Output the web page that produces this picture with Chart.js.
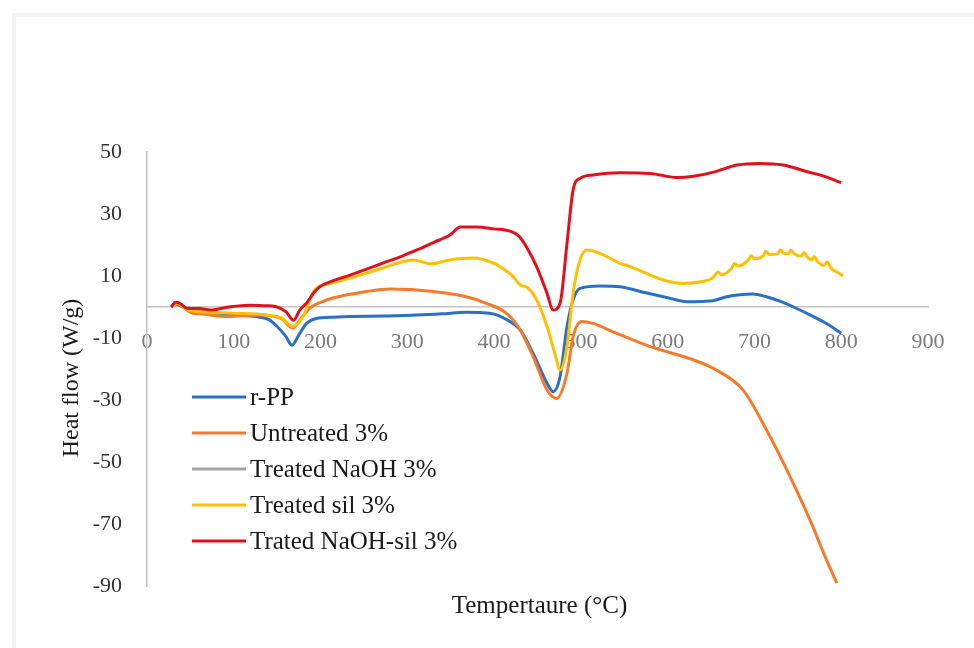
<!DOCTYPE html>
<html>
<head>
<meta charset="utf-8">
<title>Heat flow</title>
<script src="https://cdn.jsdelivr.net/npm/chart.js@4.4.1/dist/chart.umd.min.js"></script>
<style>
  html, body { margin: 0; padding: 0; background: #fff; }
  #wrap { position: relative; width: 974px; height: 648px; overflow: hidden; }
  #frame {
    position: absolute; left: 12px; top: 13px; width: 980px; height: 660px;
    border-left: 4px solid #f3f3f3; border-top: 4px solid #f3f3f3;
    pointer-events: none;
  }
</style>
</head>
<body>
<div id="wrap">
  <canvas id="dscChart" width="974" height="648"></canvas>
  <div id="frame"></div>
</div>
<script>
const seriesLabels = ["r-PP", "Untreated 3%", "Treated NaOH 3%", "Treated sil 3%", "Trated NaOH-sil 3%"];
const seriesColors = ["#2a70c8", "#f67a2a", "#a5a5a5", "#ffc000", "#e2101b"];
const xTicks = [0, 100, 200, 300, 400, 500, 600, 700, 800, 900];
const yTicks = [-90, -70, -50, -30, -10, 10, 30, 50];

// r-PP
const rppTemp = [28, 33, 38, 46, 61, 99, 126, 140, 150, 160, 167, 175, 184, 195, 215, 234, 272, 311, 340, 368, 384, 400, 410, 430, 445, 461, 468, 476, 484, 491, 499, 522, 545, 576, 600, 622, 640, 652, 668, 698, 714, 730, 745, 768, 784, 800];
const rppFlow = [0, 1, 0.5, -0.8, -1.5, -2.6, -3.1, -4, -6.3, -9.5, -12.3, -9, -5.3, -3.7, -3.3, -3.1, -2.9, -2.6, -2.2, -1.7, -1.8, -2.3, -3.4, -7.4, -15, -24.6, -27.3, -22.5, -6.3, 2.3, 6, 6.8, 6.5, 4.5, 3, 1.7, 1.8, 2, 3.3, 4.2, 3.3, 1.8, 0, -3.1, -5.5, -8.5];

// Untreated 3%
const untreatedTemp = [28, 33, 38, 46, 53, 61, 92, 130, 155, 168, 178, 188, 200, 214, 253, 280, 330, 368, 391, 414, 430, 445, 461, 472, 484, 491, 501, 514, 537, 580, 629, 656, 687, 714, 741, 764, 783, 795];
const untreatedFlow = [0, 1.2, 0.7, -1, -2, -2.2, -3.1, -2.6, -3.8, -6.8, -3.5, -0.3, 1.5, 2.9, 5, 5.8, 5, 3.3, 1.2, -2, -7.4, -16, -26.8, -29.5, -21.4, -9.6, -4.7, -5.3, -8, -12.8, -17, -20.3, -26.8, -39.7, -54.7, -68.7, -81.6, -89.1];

// Treated NaOH 3% (no trace visible in the figure)
const naohTemp = [];
const naohFlow = [];

// Treated sil 3%
const silTemp = [28, 33, 38, 46, 61, 99, 138, 155, 168, 180, 192, 210, 234, 272, 307, 317, 326, 349, 376, 399, 407, 422, 430, 437, 449, 461, 470, 476, 484, 491, 499, 507, 522, 545, 557, 595, 618, 640, 652, 658, 662, 674, 677, 681, 693, 696, 700, 710, 713, 717, 727, 730, 734, 739, 742, 746, 754, 757, 761, 766, 769, 773, 780, 784, 788, 798, 802];
const silFlow = [0, 1.3, 0.8, -0.8, -1.5, -2, -2.6, -3.5, -6.3, -3, 5, 7.5, 9.3, 12.6, 15.2, 14.6, 13.9, 15.2, 15.8, 14.2, 13, 9.8, 7.1, 6.5, 2.3, -6.3, -15, -20.3, -12.8, 4.4, 15.2, 18.4, 17.3, 14.1, 13, 8.7, 7.6, 8.2, 9.4, 11.3, 10.4, 12.6, 14, 13.2, 15.2, 16.5, 15.6, 16.5, 18, 16.9, 17.2, 18.5, 17.3, 17.2, 18.4, 17.1, 16.4, 17.6, 16.1, 15.2, 16.3, 14.6, 13.4, 14.5, 12.6, 10.8, 10];

// Trated NaOH-sil 3%
const naohSilTemp = [28, 33, 38, 46, 61, 73, 96, 119, 135, 149, 160, 169, 176, 184, 192, 199, 215, 234, 253, 272, 292, 311, 330, 349, 361, 380, 400, 418, 428, 437, 449, 461, 468, 476, 484, 491, 499, 514, 545, 580, 610, 630, 653, 680, 706, 733, 760, 779, 800];
const naohSilFlow = [0, 1.5, 1.2, -0.4, -0.5, -1, 0.1, 0.6, 0.4, 0.1, -1.5, -4.3, -1, 1.3, 4.5, 6.5, 8.5, 10.3, 12.2, 14.2, 16.2, 18.4, 20.8, 23.2, 25.8, 25.8, 25.2, 24.5, 23, 19.5, 13, 4.4, -1, 1.2, 20.5, 37.7, 41.5, 42.6, 43.3, 43.1, 41.8, 42.2, 43.5, 45.8, 46.3, 45.8, 43.7, 42.3, 40.1];

const seriesTemps = [rppTemp, untreatedTemp, naohTemp, silTemp, naohSilTemp];
const seriesFlows = [rppFlow, untreatedFlow, naohFlow, silFlow, naohSilFlow];

const SERIF = "'Liberation Serif', 'DejaVu Serif', serif";

// legend sits inside the plot, lower left, like the original
const insideLegend = {
  id: "insideLegend",
  afterDraw(chart) {
    const { ctx, chartArea } = chart;
    const x0 = chartArea.left + 45;
    let y = chartArea.top + 245;
    ctx.save();
    ctx.font = "25px " + SERIF;
    ctx.textBaseline = "middle";
    chart.data.datasets.forEach(ds => {
      ctx.strokeStyle = ds.borderColor;
      ctx.lineWidth = 3;
      ctx.beginPath();
      ctx.moveTo(x0, y);
      ctx.lineTo(x0 + 54, y);
      ctx.stroke();
      ctx.fillStyle = "#1a1a1a";
      ctx.fillText(ds.label, x0 + 58, y + 1);
      y += 36;
    });
    ctx.restore();
  }
};

// axis titles drawn by hand since the x axis crosses at y = 0
const axisTitles = {
  id: "axisTitles",
  afterDraw(chart) {
    const { ctx, chartArea } = chart;
    ctx.save();
    ctx.fillStyle = "#1a1a1a";
    ctx.textAlign = "center";
    ctx.textBaseline = "middle";
    ctx.font = "25px " + SERIF;
    ctx.fillText("Tempertaure (°C)", (chartArea.left + chartArea.right) / 2 + 2, chartArea.bottom + 20);
    ctx.font = "24px " + SERIF;
    ctx.translate(72, (chartArea.top + chartArea.bottom) / 2 + 9);
    ctx.rotate(-Math.PI / 2);
    ctx.fillText("Heat flow (W/g)", 0, 0);
    ctx.restore();
  }
};

const ctx = document.getElementById("dscChart").getContext("2d");
new Chart(ctx, {
  type: "line",
  data: {
    datasets: seriesLabels.map((label, i) => ({
      label: label,
      data: seriesTemps[i].map((t, j) => ({ x: t, y: seriesFlows[i][j] })),
      borderColor: seriesColors[i],
      backgroundColor: seriesColors[i],
      borderWidth: 3,
      pointRadius: 0,
      cubicInterpolationMode: "monotone",
      order: seriesLabels.length - i
    }))
  },
  options: {
    responsive: false,
    animation: false,
    layout: { padding: { top: 152, right: 46, bottom: 62, left: 0 } },
    plugins: {
      legend: { display: false },
      tooltip: { enabled: false }
    },
    scales: {
      x: {
        type: "linear",
        min: 0,
        max: 900,
        position: { y: 0 },
        afterBuildTicks: scale => { scale.ticks = xTicks.map(v => ({ value: v })); },
        grid: { display: false, drawTicks: false },
        border: { display: true, color: "#c4c4c4", width: 1.5 },
        ticks: { color: "#7a7a7a", padding: 22, maxRotation: 0, font: { family: SERIF, size: 22 } }
      },
      y: {
        type: "linear",
        min: -90,
        max: 50,
        afterBuildTicks: scale => { scale.ticks = yTicks.map(v => ({ value: v })); },
        afterFit: scale => { scale.width = 147; },
        grid: { display: false, drawTicks: false },
        border: { display: true, color: "#c4c4c4", width: 1.5 },
        ticks: { color: "#333333", padding: 25, font: { family: SERIF, size: 22 } }
      }
    }
  },
  plugins: [insideLegend, axisTitles]
});
</script>
</body>
</html>
